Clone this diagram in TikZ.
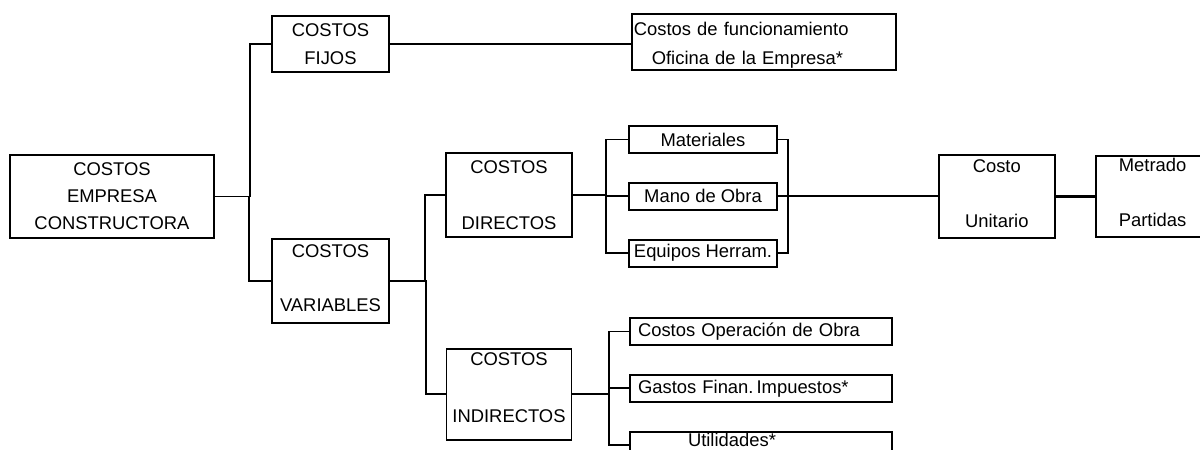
\documentclass[tikz,border=0pt]{standalone}
\usepackage{fontspec}
\setmainfont{Liberation Sans}
\usetikzlibrary{positioning,calc}

\begin{document}
\begin{tikzpicture}[x=0.5pt, y=-0.5pt, node distance=14pt, line width=0.9pt,
    every node/.style={font=\fontsize{9.2}{11}\selectfont},
    box/.style={draw, rectangle, align=center, inner sep=0pt},
    wide/.style={box, minimum width=131pt, minimum height=13.5pt, text width=123pt, align=left},
    item/.style={box, minimum width=74pt, minimum height=13.5pt}]
    \useasboundingbox (0,0) rectangle (1200,450);
    \clip (0,0) rectangle (1200,450);

    \node (empresa) [box, minimum width=102pt, minimum height=41.5pt] at (112,196.5) {COSTOS\\[2.5pt]EMPRESA\\[2.5pt]CONSTRUCTORA};
    \node (fijos) [box, minimum width=58.5pt, minimum height=28pt] at (330.5,44) {COSTOS\\[3pt]FIJOS};
    \node (variables) [box, minimum width=58.5pt, minimum height=42pt, below=82.5pt of fijos] {COSTOS\\[16pt]VARIABLES\rule[-3pt]{0pt}{0pt}};
    \node (oficina) [box, minimum width=132pt, minimum height=28pt, text width=128pt, align=left, right=120.5pt of fijos, yshift=1pt] {\hspace*{-1pt}\rule{0pt}{9.5pt}Costos de funcionamiento\\[3.5pt]\hspace*{8pt}Oficina de la Empresa*};

    \node (directos) [box, minimum width=63pt, minimum height=42pt] at (509,195) {COSTOS\\[17pt]DIRECTOS};
    \node (indirectos) [box, minimum width=62.5pt, minimum height=45.5pt, below=55pt of directos] {COSTOS\\[17.5pt]INDIRECTOS\rule[-7pt]{0pt}{0pt}};

    \node (mat) [item] at (703,139.5) {Materiales};
    \node (mano) [item, below=of mat] {Mano de Obra};
    \node (equipos) [item, below=of mano] {Equipos Herram.};

    \node (costo) [box, minimum width=58pt, minimum height=41.5pt, right=80pt of mano] {Costo\\[16.5pt]Unitario\rule[-3pt]{0pt}{0pt}};
    \node (metrado) [box, minimum width=57pt, minimum height=40.5pt, right=19.5pt of costo] {Metrado\\[16.5pt]Partidas\rule[-4pt]{0pt}{0pt}};

    \node (oper) [wide] at (761,331.5) {Costos Operación de Obra};
    \node (gastos) [wide, below=of oper] {Gastos Finan.\,Impuestos*};
    \node (util) [wide, below=of gastos] {\hspace*{25pt}Utilidades*\rule[-5pt]{0pt}{0pt}};

    \draw (empresa.east) -| ($(fijos.west)+(-21,0)$) -- (fijos.west);
    \draw (empresa.east) -| ($(variables.west)+(-22,0)$) -- (variables.west);
    \draw (fijos.east) -- (oficina.west |- fijos.east);

    \draw (variables.east) -| ($(directos.west)+(-20,0)$) -- (directos.west);
    \draw (variables.east) -| ($(indirectos.west)+(-20,0)$) -- (indirectos.west);

    \draw (directos.east) -| ($(mat.west)+(-22,0)$) -- (mat.west);
    \draw (directos.east) -| ($(mano.west)+(-22,0)$) -- (mano.west);
    \draw (directos.east) -| ($(equipos.west)+(-22,0)$) -- (equipos.west);
    \draw (mat.east) -| ($(equipos.east)+(10,0)$) -- (equipos.east);
    \draw (mano.east) -- (costo.west);
    \draw[line width=1.6pt] (costo.east) -- (metrado.west);

    \draw (indirectos.east) -| ($(oper.west)+(-20,0)$) -- (oper.west);
    \draw (indirectos.east) -| ($(gastos.west)+(-20,0)$) -- (gastos.west);
    \draw (indirectos.east) -| ($(util.west)+(-20,0)$) -- (util.west);
\end{tikzpicture}
\end{document}
